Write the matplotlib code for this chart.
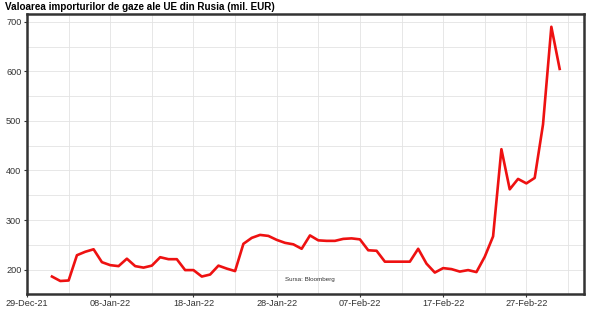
import matplotlib
matplotlib.use("Agg")
import matplotlib.pyplot as plt
import pandas as pd

## Data (daily, mil. EUR)

start_date = "2022-01-01"
values = [
    186, 177, 178, 229, 236, 241, 215, 209, 207, 222,
    207, 204, 208, 225, 221, 221, 199, 199, 186, 190,
    208, 202, 197, 252, 264, 270, 268, 260, 254, 251,
    242, 269, 259, 258, 258, 262, 263, 261, 239, 238,
    216, 216, 216, 216, 242, 212, 194, 203, 201, 196,
    199, 195, 226, 267, 443, 362, 383, 374, 385, 493,
    690, 605,
]
dates = pd.date_range(start_date, periods=len(values), freq="D")

title = "Valoarea importurilor de gaze ale UE din Rusia (mil. EUR)"
source = "Sursa: Bloomberg"

plt.rcParams['font.family'] = ['Liberation Sans', 'DejaVu Sans']

fig = plt.figure(figsize=(6, 3.16), dpi=100)
ax = fig.add_axes([0.045, 0.07, 0.928, 0.886])

ax.plot(dates, values, color="#ee1111", linewidth=1.9, zorder=3)

x0 = pd.Timestamp("2021-12-29")
ax.set_xlim(x0, x0 + pd.Timedelta(days=66.9))
ax.set_ylim(151, 716)

ticks = pd.date_range(x0, periods=7, freq="10D")
ax.set_xticks(ticks)
ax.set_xticklabels([d.strftime("%d-%b-%y") for d in ticks])
ax.set_xticks(pd.date_range("2022-01-03", periods=7, freq="10D"), minor=True)
ax.set_yticks([200, 300, 400, 500, 600, 700])
ax.set_yticks([250, 350, 450, 550, 650], minor=True)

ax.grid(which="both", color="#e3e3e3", linewidth=0.6, zorder=0)
ax.tick_params(which="major", labelsize=6.6, length=2, width=0.8, colors="#333333", pad=2)
ax.tick_params(which="minor", length=0)
for s in ax.spines.values():
    s.set_linewidth(1.8)
    s.set_color("#333333")

ax.text(pd.Timestamp("2022-02-01"), 181, source, fontsize=4.5, ha="center", va="center", color="#333333")
fig.text(0.008, 0.977, title, fontsize=7.1, fontweight="bold", ha="left", va="center")

fig.savefig("out.png", dpi=100)
